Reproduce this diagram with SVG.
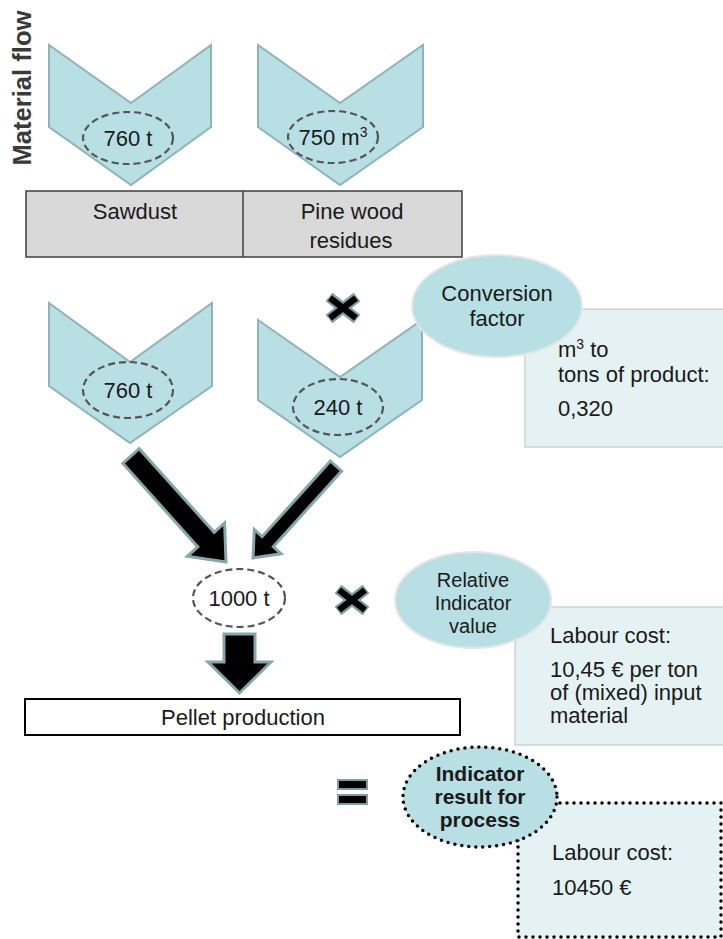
<svg xmlns="http://www.w3.org/2000/svg" width="723" height="939" viewBox="0 0 723 939">
<style>
text{font-family:"Liberation Sans",Arial,sans-serif;font-size:22px;fill:#1a1a1a}
.chev{fill:#b8dfe3;stroke:#8fb3b7;stroke-width:2}
.dash{fill:none;stroke:#555;stroke-width:2.2;stroke-dasharray:7 4}
.arrow{fill:#000;stroke:#86a6aa;stroke-width:3;stroke-linejoin:miter}
.bubble{fill:#b8dfe3;stroke:#e6e6e6;stroke-width:2}
.info{fill:#e5f2f3;stroke:#c9d3d5;stroke-width:1.5}
.dots{stroke:#000;stroke-width:3.5;stroke-dasharray:0 7;stroke-linecap:round}
.c{text-anchor:middle}
.b{font-weight:bold}
.s{font-size:20px}
</style>

<text class="b" x="0" y="0" transform="translate(31,88) rotate(-90)" text-anchor="middle" style="font-size:25px;fill:#3a3a3a" textLength="155" lengthAdjust="spacingAndGlyphs">Material flow</text>

<g id="chev-sawdust">
<polygon class="chev" points="49,45 131,103 211,45 211,127 131,185 49,127"/>
<ellipse class="dash" cx="128" cy="138" rx="45" ry="26"/>
<text class="c" x="128" y="146">760 t</text>
</g>
<g id="chev-pine">
<polygon class="chev" points="258,45 340,103 423,45 423,127 340,185 258,127"/>
<ellipse class="dash" cx="333" cy="137" rx="45" ry="26"/>
<text class="c" x="333" y="145">750 m<tspan dy="-8" style="font-size:14px">3</tspan></text>
</g>

<g id="materials">
<rect x="26" y="191" width="436" height="66" fill="#d9d9d9" stroke="#3f3f3f" stroke-width="1.5"/>
<line x1="243" y1="191" x2="243" y2="257" stroke="#3f3f3f" stroke-width="1.5"/>
<text class="c" x="135" y="219">Sawdust</text>
<text class="c" x="352" y="219">Pine wood</text>
<text class="c" x="351" y="248">residues</text>
</g>

<g id="conv-box">
<rect class="info" x="525" y="309" width="205" height="138"/>
<text x="558" y="357">m<tspan dy="-8" style="font-size:14px">3</tspan><tspan dy="8"> to</tspan></text>
<text x="558" y="382">tons of product:</text>
<text x="558" y="416">0,320</text>
</g>

<g id="chev-760">
<polygon class="chev" points="49,303 130,362 212,303 212,386 130,443 49,386"/>
<ellipse class="dash" cx="128" cy="390" rx="45" ry="28"/>
<text class="c" x="128" y="398">760 t</text>
</g>
<g id="chev-240">
<polygon class="chev" points="258,320 340,377 422,320 422,400 340,457 258,400"/>
<ellipse class="dash" cx="338" cy="407" rx="45" ry="28"/>
<text class="c" x="338" y="415">240 t</text>
</g>

<g id="conv-factor">
<ellipse class="bubble" cx="497" cy="306" rx="85" ry="51"/>
<text class="c" x="497" y="301">Conversion</text>
<text class="c" x="497" y="326">factor</text>
</g>

<g id="times-1">
<path d="M329,297 L357,319 M357,297 L329,319" stroke="#7f9ea2" stroke-width="11"/>
<path d="M330,298 L356,318 M356,298 L330,318" stroke="#000" stroke-width="6.5"/>
</g>

<g id="connectors">
<polygon class="arrow" points="122.8,463.3 197.8,546.9 187.4,556.3 226,562 224.6,522.9 214.2,532.3 139.2,448.7"/>
<polygon class="arrow" points="330.4,461 262.1,536.7 254.3,529.6 253,558 281.1,553.8 273.3,546.7 341.6,471"/>
<polygon class="arrow" points="224,634 255,634 255,662 271,662 239.5,693 208,662 224,662"/>
</g>

<g id="total">
<ellipse class="dash" cx="239" cy="598" rx="46" ry="29"/>
<text class="c" x="239" y="606">1000 t</text>
</g>

<g id="times-2">
<path d="M338,589 L366,611 M366,589 L338,611" stroke="#7f9ea2" stroke-width="11"/>
<path d="M339,590 L365,610 M365,590 L339,610" stroke="#000" stroke-width="6.5"/>
</g>

<g id="labour-box">
<rect class="info" x="515" y="607" width="215" height="138"/>
<text x="550" y="643">Labour cost:</text>
<text x="550" y="677">10,45 € per ton</text>
<text x="550" y="700">of (mixed) input</text>
<text x="550" y="723">material</text>
</g>

<g id="rel-indicator">
<ellipse class="bubble" cx="473" cy="600" rx="78" ry="48"/>
<text class="c s" x="473" y="587">Relative</text>
<text class="c s" x="473" y="610">Indicator</text>
<text class="c s" x="473" y="633">value</text>
</g>

<g id="pellet">
<rect x="25" y="699" width="435" height="36" fill="#fff" stroke="#000" stroke-width="2"/>
<text class="c" x="243" y="725">Pellet production</text>
</g>

<g id="equals">
<rect x="338" y="780" width="29" height="9" fill="#000" stroke="#7f9ea2" stroke-width="2"/>
<rect x="338" y="795" width="29" height="9" fill="#000" stroke="#7f9ea2" stroke-width="2"/>
</g>

<g id="result-box">
<rect x="518" y="803" width="203" height="134" fill="#e5f2f3"/>
<rect class="dots" x="518" y="803" width="203" height="134" fill="none"/>
<text x="552" y="860">Labour cost:</text>
<text x="552" y="895">10450 €</text>
</g>

<g id="result">
<ellipse cx="480" cy="797" rx="77" ry="50" fill="#b8dfe3"/>
<ellipse class="dots" cx="480" cy="797" rx="77" ry="50" fill="none"/>
<text class="c b" x="480" y="781" style="font-size:21px">Indicator</text>
<text class="c b" x="480" y="804" style="font-size:21px">result for</text>
<text class="c b" x="480" y="827" style="font-size:21px">process</text>
</g>
</svg>
